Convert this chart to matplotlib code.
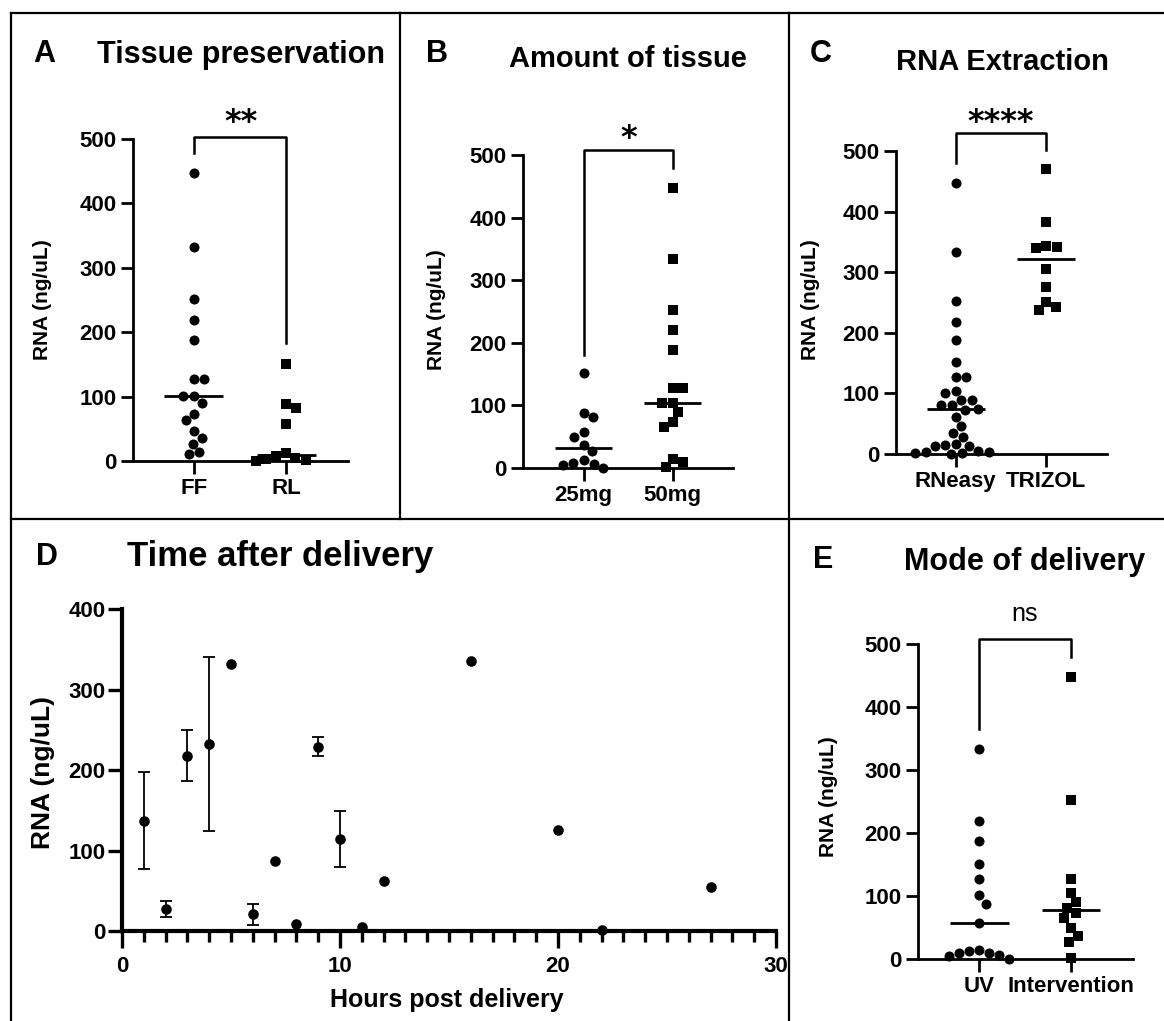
import numpy as np
import matplotlib.pyplot as plt
from matplotlib.lines import Line2D

W, H = 1164, 1021

# ---- data (RNA, ng/uL) ----
# A: tissue preservation
ff_rna = [447, 333, 252, 219, 188, 127, 127, 101, 101, 90, 73, 63, 47, 36, 27, 14, 11]
rl_rna = [151, 88, 82, 57, 13, 7, 5, 3, 1, 0]
# B: amount of tissue
mg25_rna = [152, 88, 81, 57, 49, 36, 27, 12, 8, 7, 5, 0]
mg50_rna = [448, 334, 253, 220, 189, 128, 128, 104, 104, 89, 74, 65, 14, 9, 1]
# C: extraction kit
rneasy_rna = [448, 333, 252, 218, 188, 151, 127, 127, 104, 101, 89, 89, 81, 81, 75,
              73, 61, 46, 34, 28, 16, 15, 14, 13, 5, 4, 3, 2, 1, 0]
trizol_rna = [470, 383, 344, 342, 340, 305, 276, 251, 243, 238]
# E: mode of delivery
uv_rna = [334, 219, 188, 151, 127, 101, 88, 57, 15, 12, 10, 10, 6, 4, 0]
interv_rna = [448, 253, 127, 105, 90, 81, 73, 65, 49, 36, 27, 2]
# D: time after delivery (mean +/- sd, 0 = single sample)
hours = [1, 2, 3, 4, 5, 6, 7, 8, 9, 10, 11, 12, 16, 20, 22, 27]
d_mean = [137, 27, 218, 232, 332, 21, 87, 9, 229, 114, 5, 62, 336, 126, 1, 55]
d_sd = [60, 10, 32, 108, 0, 13, 0, 0, 12, 35, 0, 0, 0, 0, 0, 0]

# significance brackets: (top, left leg end, right leg end)
a_bracket = (503, 478, 183)
b_bracket = (508, 181, 479)
c_bracket = (529, 480, 502)
e_bracket = (508, 365, 479)

plt.rcParams['font.family'] = ['Liberation Sans', 'DejaVu Sans']
plt.rcParams['font.weight'] = 'bold'

fig = plt.figure(figsize=(W / 100, H / 100), dpi=100)


def px_axes(x0, x1, ytop, ybot):
    return fig.add_axes([x0 / W, 1 - ybot / H, (x1 - x0) / W, (ybot - ytop) / H])


def ftext(x, y, s, **kw):
    fig.text(x / W, 1 - y / H, s, **kw)


def fline(xs, ys, lw=1.6):
    fig.add_artist(Line2D([x / W for x in xs], [1 - y / H for y in ys],
                          transform=fig.transFigure, color='k', lw=lw))


# simple beeswarm, done in pixel space so the dots don't pile up
def swarm(ax, center, values, d):
    tr = ax.transData
    ux = tr.transform((1, 0))[0] - tr.transform((0, 0))[0]
    ys = [tr.transform((0, v))[1] for v in values]
    order = np.argsort(values)[::-1]
    placed = []
    offs = np.zeros(len(values))
    side = 1
    for i in order:
        y = ys[i]
        cands = [0.0]
        bad = []
        for px_, py_ in placed:
            dy = abs(py_ - y)
            if dy < d:
                w = np.sqrt(d ** 2 - dy ** 2)
                bad.append((px_ - w, px_ + w))
                cands += [px_ - w, px_ + w]
        ok = [c for c in cands if all(not (a + 1e-6 < c < b - 1e-6) for a, b in bad)]
        m = min(abs(c) for c in ok)
        near = [c for c in ok if abs(c) - m < 0.5]
        pick = [c for c in near if np.sign(c) == side] or near
        best = pick[0]
        if best != 0:
            side = -side
        placed.append((best, y))
        offs[i] = best / ux
    return center + offs


def dot_panel(box, xlim, names, groups, bracket, sig, sig_xy, sig_kw):
    ax = px_axes(*box)
    ax.set_xlim(xlim)
    ax.set_ylim(0, 500)
    for sp in ['top', 'right']:
        ax.spines[sp].set_visible(False)
    for sp in ['left', 'bottom']:
        ax.spines[sp].set_linewidth(2)
    ax.set_yticks(np.arange(0, 501, 100))
    ax.set_xticks(range(len(names)))
    ax.set_xticklabels(names, fontsize=16)
    ax.tick_params(axis='both', length=9, width=2, pad=3)
    ax.tick_params(axis='y', labelsize=16)
    for i, vals in enumerate(groups):
        xs = swarm(ax, i, vals, 10.5)
        if i == 0:
            ax.scatter(xs, vals, marker='o', s=52, color='k', lw=0, clip_on=False, zorder=3)
        else:
            ax.scatter(xs, vals, marker='s', s=44, color='k', lw=0, clip_on=False, zorder=3)
        ax.hlines(np.median(vals), i - 0.32, i + 0.32, color='k', lw=2, zorder=4)
    top, left, right = bracket
    ax.plot([0, 0, 1, 1], [left, top, top, right], color='k', lw=1.8, clip_on=False)
    ftext(sig_xy[0], sig_xy[1], sig, ha='center', va='baseline', **sig_kw)
    return ax


stars = dict(family='DejaVu Sans', fontweight='bold', fontsize=23)

# A
dot_panel((133, 348, 139, 461), (-0.66, 1.67), ['FF', 'RL'], [ff_rna, rl_rna],
          a_bracket, '**', (241, 131), stars)
# B
dot_panel((523, 733, 155, 468), (-0.68, 1.675), ['25mg', '50mg'], [mg25_rna, mg50_rna],
          b_bracket, '*', (629, 147), stars)
# C
dot_panel((896, 1107, 151, 454), (-0.66, 1.67), ['RNeasy', 'TRIZOL'], [rneasy_rna, trizol_rna],
          c_bracket, '****', (1001, 131), stars)
# E
dot_panel((918, 1133, 644, 959), (-0.667, 1.674), ['UV', 'Intervention'], [uv_rna, interv_rna],
          e_bracket, 'ns', (1025, 621), dict(fontweight='normal', fontsize=18))

# D
axd = px_axes(122, 776, 609, 931)
axd.set_xlim(0, 30)
axd.set_ylim(0, 400)
for sp in ['top', 'right']:
    axd.spines[sp].set_visible(False)
for sp in ['left', 'bottom']:
    axd.spines[sp].set_linewidth(3)
axd.set_xticks([0, 10, 20, 30])
axd.set_xticks(np.arange(0, 31, 1), minor=True)
axd.set_yticks(np.arange(0, 401, 100))
axd.tick_params(axis='x', which='major', length=12, width=2.4, pad=6, labelsize=16)
axd.tick_params(axis='x', which='minor', length=8, width=2.4)
axd.tick_params(axis='y', length=10, width=2.4, pad=2, labelsize=16)
h = np.array(hours)
mu = np.array(d_mean)
sd = np.array(d_sd)
m = sd > 0
axd.errorbar(h[m], mu[m], yerr=sd[m], fmt='none', ecolor='k', elinewidth=1.3,
             capsize=4, capthick=1.3, clip_on=False)
axd.scatter(h, mu, s=58, color='k', lw=0, clip_on=False, zorder=3)

# panel titles / letters
ftext(33, 62, 'A', fontsize=22, va='baseline')
ftext(241, 63, 'Tissue preservation', fontsize=22, ha='center', va='baseline')
ftext(426, 62, 'B', fontsize=22, va='baseline')
ftext(628, 67, 'Amount of tissue', fontsize=21, ha='center', va='baseline')
ftext(810, 62, 'C', fontsize=22, va='baseline')
ftext(1002, 70, 'RNA Extraction', fontsize=21, ha='center', va='baseline')
ftext(36, 565, 'D', fontsize=22, va='baseline')
ftext(280, 566, 'Time after delivery', fontsize=25, ha='center', va='baseline')
ftext(813, 568, 'E', fontsize=22, va='baseline')
ftext(1025, 570, 'Mode of delivery', fontsize=22, ha='center', va='baseline')

# axis labels
for x, y in [(43, 300), (436, 310), (810, 300), (828, 797)]:
    ftext(x, y, 'RNA (ng/uL)', fontsize=15, rotation=90, ha='center', va='center')
ftext(43, 772, 'RNA (ng/uL)', fontsize=19, rotation=90, ha='center', va='center')
ftext(447, 1000, 'Hours post delivery', fontsize=18, ha='center', va='center')

# panel frames
fline([11, 1164], [13, 13])
fline([11, 11], [13, 1021])
fline([400, 400], [13, 519])
fline([789, 789], [13, 1021])
fline([11, 1164], [519, 519])

fig.savefig('out.png', dpi=100)
